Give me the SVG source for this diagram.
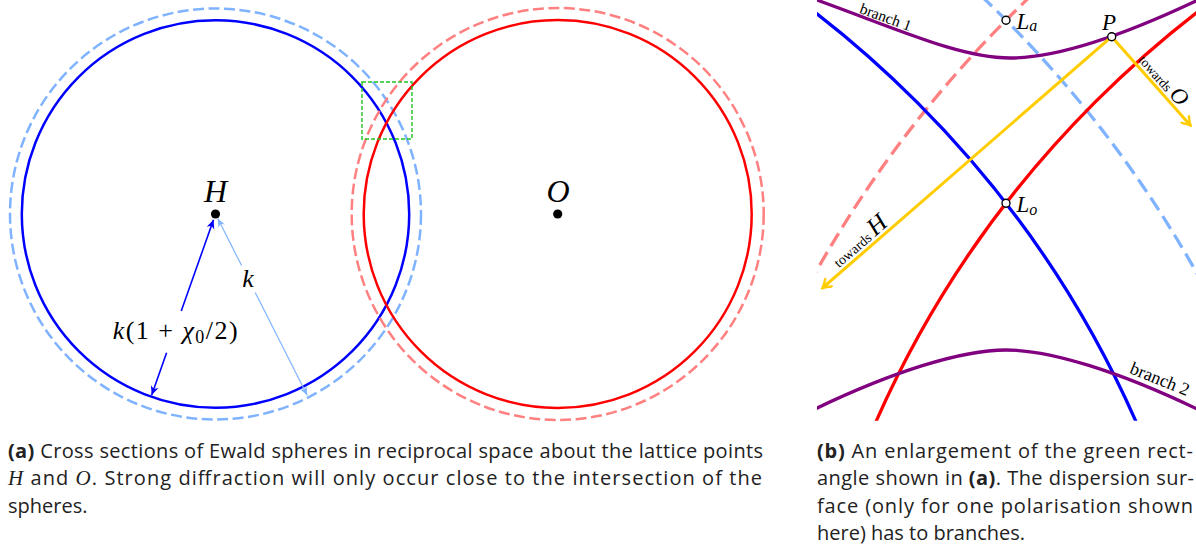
<svg xmlns="http://www.w3.org/2000/svg" width="1196" height="549" viewBox="0 0 1196 549">
<style>
.math{font-family:"Liberation Serif","DejaVu Serif",serif;font-style:italic;fill:#000}
.rm{font-family:"Liberation Serif","DejaVu Serif",serif;font-style:normal;fill:#000}
.cap{font-family:"Open Sans","Lato","Liberation Sans",sans-serif;font-size:20px;fill:#222}
.capm{font-family:"Liberation Serif","DejaVu Serif",serif;font-style:italic;font-size:21px;fill:#222}
.b{font-weight:bold}
.sa{fill:none;stroke-width:2.5}
.sb{fill:none;stroke-width:3.3}
.da{stroke-dasharray:11 4.5}
.db{stroke-dasharray:15 7}
.pt{fill:#fff;stroke:#000;stroke-width:1.4}
</style>
<defs>
<marker id="mb" viewBox="-10 -5 12 10" refX="0" refY="0" markerWidth="12" markerHeight="10" markerUnits="userSpaceOnUse" orient="auto">
<path d="M0,0 L-9,-4 L-6.5,0 L-9,4 Z" fill="#0000ff"/>
</marker>
<marker id="mlb" viewBox="-10 -5 12 10" refX="0" refY="0" markerWidth="12" markerHeight="10" markerUnits="userSpaceOnUse" orient="auto">
<path d="M0,0 L-8.5,-3.6 L-6,0 L-8.5,3.6 Z" fill="#80b3ff"/>
</marker>
<marker id="my" viewBox="-10 -6 12 12" refX="0" refY="0" markerWidth="12" markerHeight="12" markerUnits="userSpaceOnUse" orient="auto">
<path d="M-8,-5 Q-3,-1.2 0,0 Q-3,1.2 -8,5" fill="none" stroke="#ffcc00" stroke-width="2.4" stroke-linecap="round"/>
</marker>
<clipPath id="clipb"><rect x="817" y="0" width="379" height="420.7"/></clipPath>
</defs>

<!-- Panel (a) -->
<g id="sphere-H-outer"><circle cx="215.5" cy="214" r="205.5" class="sa da" stroke="#80b3ff"/></g>
<g id="sphere-H-inner"><circle cx="215.5" cy="214" r="193.7" class="sa" stroke="#0000ff"/></g>
<g id="sphere-O-outer"><circle cx="557.7" cy="214" r="206" class="sa da" stroke="#ff8080"/></g>
<g id="sphere-O-inner"><circle cx="557.7" cy="214" r="194" class="sa" stroke="#ff0000"/></g>
<g id="green-rect"><rect x="362" y="82" width="50" height="57" fill="none" stroke="#22c322" stroke-width="1.4" stroke-dasharray="4 2"/></g>
<g id="node-H">
<circle cx="215.5" cy="214" r="4.6" fill="#000"/>
<text x="215.5" y="201.5" class="math" font-size="32" text-anchor="middle">H</text>
</g>
<g id="node-O">
<circle cx="557.7" cy="214" r="4.6" fill="#000"/>
<text x="558" y="201.5" class="math" font-size="32" text-anchor="middle">O</text>
</g>

<g id="connectors-a">
<line x1="181.25" y1="311.1" x2="213.5" y2="219.7" stroke="#0000ff" stroke-width="1.6" marker-end="url(#mb)"/>
<line x1="166.6" y1="352.7" x2="151.7" y2="395.1" stroke="#0000ff" stroke-width="1.6" marker-end="url(#mb)"/>
<line x1="241.6" y1="265.6" x2="217.8" y2="218.5" stroke="#80b3ff" stroke-width="1.2" marker-end="url(#mlb)"/>
<line x1="255.2" y1="292.5" x2="307.2" y2="395.2" stroke="#80b3ff" stroke-width="1.2" marker-end="url(#mlb)"/>
</g>
<g id="label-k1">
<text x="112.7" y="339" class="rm" font-size="26" textLength="125" lengthAdjust="spacing"><tspan class="math">k</tspan>(1 + <tspan class="math">χ</tspan><tspan font-size="18" dy="4">0</tspan><tspan dy="-4">/2)</tspan></text>
</g>
<g id="label-k">
<text x="248" y="287" class="math" font-size="26" text-anchor="middle">k</text>
</g>

<!-- Panel (b) -->
<g clip-path="url(#clipb)">
<g id="curve-La-red"><circle cx="1842.5" cy="849.6" r="1178" class="sb db" stroke="#ff8080"/></g>
<g id="curve-La-blue"><circle cx="169.5" cy="849.6" r="1178" class="sb db" stroke="#80b3ff"/></g>
<g id="curve-Lo-blue"><circle cx="169.5" cy="849.6" r="1057" class="sb" stroke="#0000ff"/></g>
<g id="curve-Lo-red"><circle cx="1842.5" cy="849.6" r="1057" class="sb" stroke="#ff0000"/></g>
<g id="branch-1"><path d="M814,-1 C900,30 960,58 1010,58 C1055,58 1120,37 1198,0" class="sb" stroke="#800080"/></g>
<g id="branch-2"><path d="M814,409.5 C892,372 961,350 1006,350 C1051,350 1120,372 1198,409.5" class="sb" stroke="#800080"/></g>
<g id="connectors-b">
<line x1="1111.7" y1="36.7" x2="822.5" y2="288" stroke="#ffcc00" stroke-width="3" marker-end="url(#my)"/>
<line x1="1111.7" y1="36.7" x2="1190.5" y2="125.5" stroke="#ffcc00" stroke-width="3" marker-end="url(#my)"/>
</g>
</g>
<text x="884" y="22" class="rm" font-size="15.5" text-anchor="middle" transform="rotate(20 884 22)">branch 1</text>
<text x="1157.7" y="384.5" class="rm" font-size="18" text-anchor="middle" transform="rotate(22 1157.7 384.5)">branch 2</text>
<text x="864" y="246.6" class="rm" font-size="14" text-anchor="middle" transform="rotate(-40.9 864 246.6)">towards <tspan class="math" font-size="25">H</tspan></text>
<text x="1158.5" y="84" class="rm" font-size="13.5" text-anchor="middle" transform="rotate(48.4 1158.5 84)">towards <tspan class="math" font-size="23">O</tspan></text>
<g id="node-La">
<circle cx="1006" cy="20.2" r="4" class="pt"/>
<text x="1016.5" y="28.5" class="math" font-size="23">L<tspan font-size="16" dy="2.5">a</tspan></text>
</g>
<g id="node-Lo">
<circle cx="1006" cy="203.2" r="4" class="pt"/>
<text x="1016.5" y="212" class="math" font-size="23">L<tspan font-size="16" dy="2.5">o</tspan></text>
</g>
<g id="node-P">
<circle cx="1111.7" cy="36.7" r="4" class="pt"/>
<text x="1109" y="30" class="math" font-size="23" text-anchor="middle">P</text>
</g>

<!-- Captions -->
<g id="caption-a">
<text x="8" y="457.5" class="cap" textLength="755" lengthAdjust="spacing"><tspan class="b">(a)</tspan> Cross sections of Ewald spheres in reciprocal space about the lattice points</text>
<text x="8" y="485" class="cap" textLength="754" lengthAdjust="spacing"><tspan class="capm">H</tspan> and <tspan class="capm">O</tspan>.  Strong diffraction will only occur close to the intersection of the</text>
<text x="8" y="512.5" class="cap">spheres.</text>
</g>
<g id="caption-b">
<text x="817" y="457.5" class="cap" textLength="376" lengthAdjust="spacing"><tspan class="b">(b)</tspan> An enlargement of the green rect-</text>
<text x="817" y="485" class="cap" textLength="377" lengthAdjust="spacing">angle shown in <tspan class="b">(a)</tspan>. The dispersion sur-</text>
<text x="817" y="512.5" class="cap" textLength="376" lengthAdjust="spacing">face (only for one polarisation shown</text>
<text x="817" y="540" class="cap">here) has to branches.</text>
</g>
</svg>
